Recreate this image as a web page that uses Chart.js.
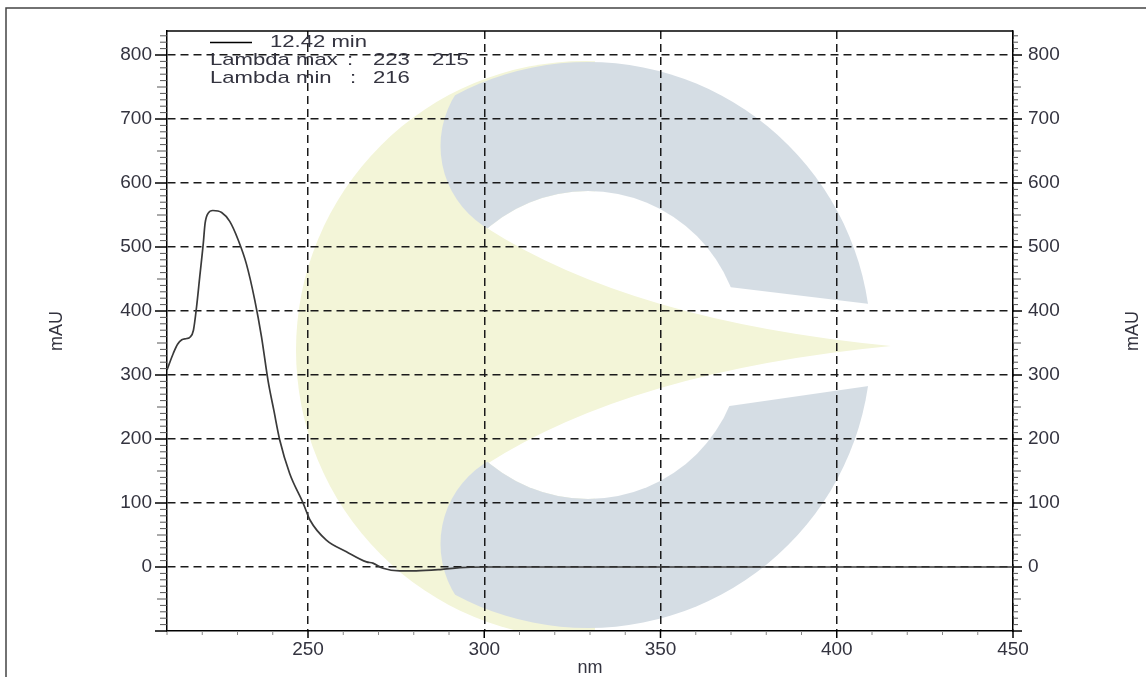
<!DOCTYPE html>
<html>
<head>
<meta charset="utf-8">
<script src="https://cdn.jsdelivr.net/npm/chart.js@4.4.1/dist/chart.umd.min.js"></script>
<style>
  html, body { margin: 0; padding: 0; background: #fff; }
  #wrap { width: 1146px; height: 677px; }
</style>
</head>
<body>
<div id="wrap"><canvas id="uv"></canvas></div>
<script>
// spectrum (nm -> mAU)
const wavelengths = [210, 211.8, 213, 214.2, 215.6, 216.5, 217.5, 218.4, 219.3, 220.3, 220.8, 221.7, 223, 225.5,
  227.8, 230.2, 232.5, 234.9, 236.8, 238.7, 240.3, 242, 244.8, 248.6, 250.6, 255.2, 260.9, 266.6, 268.4,
  271.3, 276, 280.7, 287.5, 293, 300, 350, 400, 450];
const absorbance = [308, 334, 348, 355, 357, 359, 370, 407, 454, 506, 537, 553, 557, 554,
  540, 511, 474, 417, 360, 290, 245, 198, 146, 100, 73, 42, 24, 8, 6,
  -2, -6, -6, -4, -1, 0, 0, 0, 0];

const xTicks = [250, 300, 350, 400, 450];
const yTicks = [0, 100, 200, 300, 400, 500, 600, 700, 800];
const xRange = [210, 450];
const yRange = [-100, 837.5];
const xMinorStep = 10;
const yMinorStep = 10;

const retentionTime = '12.42 min';
const lambdaMax = [223, 215];
const lambdaMin = [216];
const xTitle = 'nm';
const yTitle = 'mAU';

const FONT = "'Liberation Sans', Arial, sans-serif";
const TEXT = '#33333f';
const YELLOW = '#f3f5d8';
const GRAY = '#d5dde4';

// faint logo behind the plot, laid out in the original 846x600 plot box
function drawWatermark(chart) {
  const a = chart.chartArea;
  const dpr = chart.currentDevicePixelRatio;
  const layer = () => {
    const c = document.createElement('canvas');
    c.width = chart.canvas.width;
    c.height = chart.canvas.height;
    const g = c.getContext('2d');
    g.scale(dpr, dpr);
    g.translate(a.left, a.top);
    g.scale((a.right - a.left) / 846, (a.bottom - a.top) / 600);
    g.translate(-167, -31);
    return [c, g];
  };
  const gap = (g) => {
    g.beginPath();
    g.moveTo(700, 283.5); g.lineTo(940, 312.6); g.lineTo(940, 375.8); g.lineTo(700, 410.3);
    g.closePath(); g.fill();
  };
  const inner = (g) => { g.beginPath(); g.arc(588, 345, 154, 0, Math.PI * 2); g.fill(); };

  const [yc, y] = layer();
  y.fillStyle = YELLOW;
  y.save();
  y.beginPath(); y.rect(200, 0, 395, 700); y.clip();
  y.beginPath(); y.arc(585, 350, 289, 0, Math.PI * 2); y.fill();
  y.restore();
  y.globalCompositeOperation = 'destination-out';
  inner(y); gap(y);
  y.globalCompositeOperation = 'source-over';
  y.beginPath();
  y.moveTo(486, 227.5);
  y.quadraticCurveTo(631.5, 321, 891, 346);
  y.quadraticCurveTo(631.5, 371, 486, 464.5);
  y.lineTo(400, 464.5); y.lineTo(400, 227.5);
  y.closePath(); y.fill();

  const [gc, g] = layer();
  g.fillStyle = GRAY;
  g.beginPath(); g.arc(588, 345, 283, 0, Math.PI * 2); g.fill();
  g.globalCompositeOperation = 'destination-out';
  inner(g); gap(g);
  [[0, 145.9], [345, 544.1]].forEach(([top, cy]) => {
    g.save();
    g.beginPath(); g.rect(250, top, 333, 345); g.clip();
    g.beginPath(); g.rect(0, 0, 1200, 800); g.arc(536.5, cy, 96, 0, Math.PI * 2);
    g.fill('evenodd');
    g.restore();
  });

  const ctx = chart.ctx;
  ctx.save();
  ctx.beginPath(); ctx.rect(a.left, a.top, a.right - a.left, a.bottom - a.top); ctx.clip();
  ctx.drawImage(yc, 0, 0, chart.width, chart.height);
  ctx.drawImage(gc, 0, 0, chart.width, chart.height);
  ctx.restore();
}

function seg(ctx, x1, y1, x2, y2) {
  ctx.beginPath(); ctx.moveTo(x1, y1); ctx.lineTo(x2, y2); ctx.stroke();
}

function wideText(ctx, s, x, y) {
  ctx.save();
  ctx.translate(x, y);
  ctx.scale(1.3, 1);
  ctx.fillText(s, 0, 0);
  ctx.restore();
}

const paper = {
  id: 'paper',
  beforeDraw(chart) {
    const ctx = chart.ctx;
    ctx.save();
    ctx.fillStyle = '#fff';
    ctx.fillRect(0, 0, chart.width, chart.height);
    ctx.restore();
    drawWatermark(chart);
  },
  afterDraw(chart) {
    const ctx = chart.ctx;
    const a = chart.chartArea;
    const xs = chart.scales.x, ys = chart.scales.y;
    ctx.save();

    // outer frame of the figure
    ctx.strokeStyle = '#444';
    ctx.lineWidth = 1.5;
    ctx.beginPath(); ctx.moveTo(6, chart.height); ctx.lineTo(6, 8); ctx.lineTo(chart.width, 8); ctx.stroke();

    // top edge of plot box
    ctx.strokeStyle = '#000';
    seg(ctx, a.left, a.top, a.right, a.top);

    // minor / major tick marks
    for (let v = xRange[0]; v <= xRange[1]; v += xMinorStep) {
      const px = xs.getPixelForValue(v);
      const major = v % 50 === 0;
      ctx.strokeStyle = major ? '#000' : '#888';
      ctx.lineWidth = major ? 1.5 : 1;
      seg(ctx, px, a.bottom, px, a.bottom + (major ? 7 : 4));
    }
    for (let v = yRange[0]; v <= yRange[1]; v += yMinorStep) {
      const py = ys.getPixelForValue(v);
      const len = v % 100 === 0 ? [12, 9] : v % 50 === 0 ? [10, 8] : [7, 5];
      ctx.strokeStyle = v % 100 === 0 ? '#000' : '#555';
      ctx.lineWidth = v % 100 === 0 ? 1.5 : 1;
      seg(ctx, a.left - len[0], py, a.left, py);
      seg(ctx, a.right, py, a.right + len[1], py);
    }

    // legend block
    ctx.strokeStyle = '#000';
    ctx.lineWidth = 1.5;
    seg(ctx, a.left + 43, a.top + 11.5, a.left + 85, a.top + 11.5);
    ctx.fillStyle = TEXT;
    ctx.font = '17px ' + FONT;
    ctx.textBaseline = 'alphabetic';
    wideText(ctx, retentionTime, a.left + 103, a.top + 16);
    wideText(ctx, 'Lambda max', a.left + 43, a.top + 34);
    wideText(ctx, ':', a.left + 180, a.top + 34);
    wideText(ctx, String(lambdaMax[0]), a.left + 206, a.top + 34);
    wideText(ctx, String(lambdaMax[1]), a.left + 265, a.top + 34);
    wideText(ctx, 'Lambda min', a.left + 43, a.top + 52);
    wideText(ctx, ':', a.left + 183, a.top + 52);
    wideText(ctx, String(lambdaMin[0]), a.left + 206, a.top + 52);

    // right axis title, same orientation as the left one
    ctx.font = '18px ' + FONT;
    ctx.textAlign = 'center';
    ctx.textBaseline = 'middle';
    ctx.translate(1133, (a.top + a.bottom) / 2);
    ctx.rotate(-Math.PI / 2);
    ctx.fillText(yTitle, 0, 0);
    ctx.restore();
  }
};

const tickFont = { family: FONT, size: 19 };

new Chart(document.getElementById('uv'), {
  type: 'line',
  data: {
    datasets: [{
      data: wavelengths.map((w, i) => ({ x: w, y: absorbance[i] })),
      borderColor: '#3a3a3a',
      borderWidth: 1.7,
      pointRadius: 0,
      cubicInterpolationMode: 'monotone',
      fill: false
    }]
  },
  options: {
    responsive: true,
    maintainAspectRatio: false,
    animation: false,
    layout: { padding: { top: 31, left: 0, right: 0, bottom: 0 } },
    plugins: { legend: { display: false }, tooltip: { enabled: false } },
    scales: {
      x: {
        type: 'linear',
        position: 'bottom',
        min: xRange[0],
        max: xRange[1],
        afterBuildTicks: (s) => { s.ticks = xTicks.map((v) => ({ value: v })); },
        afterFit: (s) => { s.height = 46; },
        grid: { color: '#1a1a1a', lineWidth: 1.5, drawTicks: false },
        border: { display: true, color: '#000', width: 1.5, dash: [8, 5] },
        ticks: { font: tickFont, color: TEXT, padding: 7, maxRotation: 0, autoSkip: false },
        title: { display: true, text: xTitle, font: { family: FONT, size: 18, lineHeight: 1 }, color: TEXT, padding: { top: 0, bottom: 0 } }
      },
      y: {
        type: 'linear',
        position: 'left',
        min: yRange[0],
        max: yRange[1],
        afterBuildTicks: (s) => { s.ticks = yTicks.map((v) => ({ value: v })); },
        afterFit: (s) => { s.width = 167; },
        grid: { color: '#1a1a1a', lineWidth: 1.5, drawTicks: false },
        border: { display: true, color: '#000', width: 1.5, dash: [8, 5] },
        ticks: { font: tickFont, color: TEXT, padding: 15 },
        title: { display: true, text: yTitle, font: { family: FONT, size: 18 }, color: TEXT, padding: { top: 46, bottom: 0 } }
      },
      y2: {
        type: 'linear',
        position: 'right',
        min: yRange[0],
        max: yRange[1],
        afterBuildTicks: (s) => { s.ticks = yTicks.map((v) => ({ value: v })); },
        afterFit: (s) => { s.width = 133; },
        grid: { display: false, drawTicks: false },
        border: { display: true, color: '#000', width: 1.5 },
        ticks: { font: tickFont, color: TEXT, padding: 15 }
      }
    }
  },
  plugins: [paper]
});
</script>
</body>
</html>
